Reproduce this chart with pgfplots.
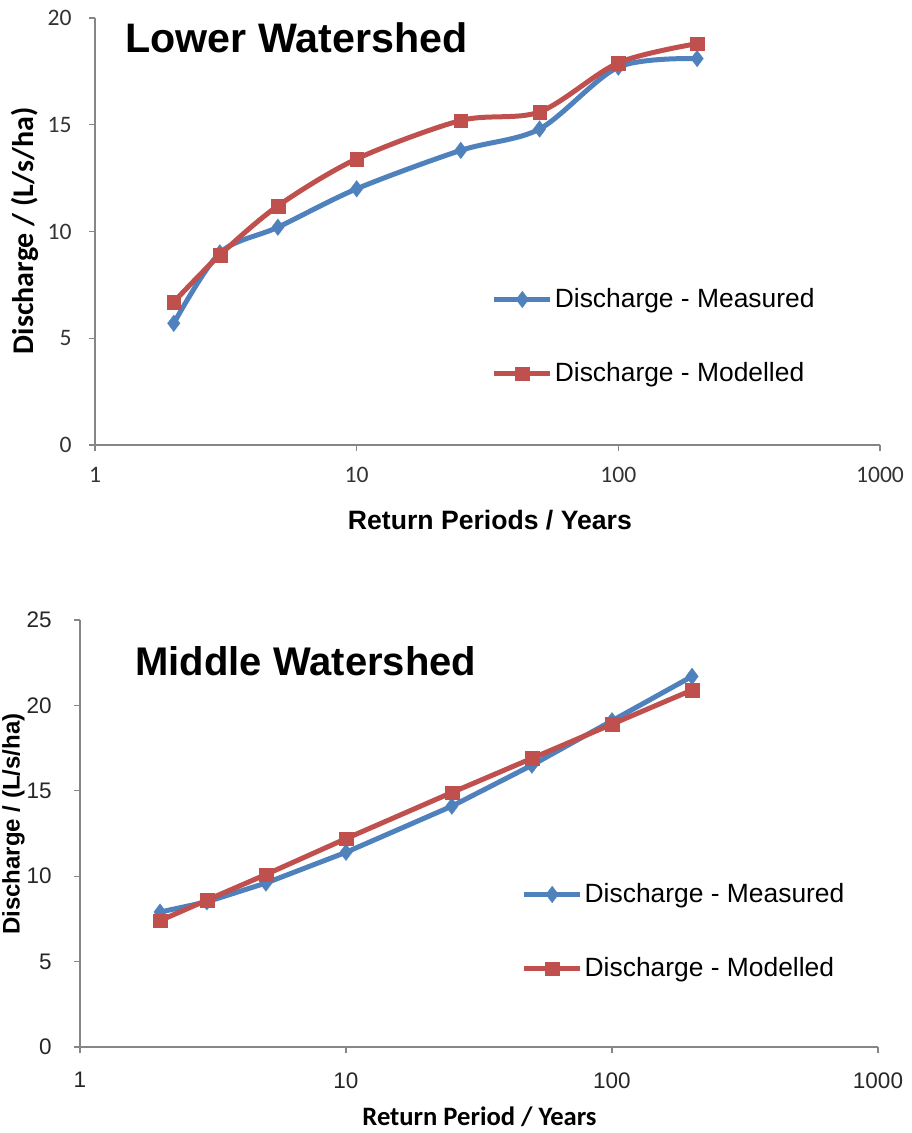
\documentclass[border=0pt]{standalone}
\usepackage{fontspec}
\setmainfont{Liberation Sans}
\newfontfamily\calibri{Carlito}
\usepackage{pgfplots}
\pgfplotsset{compat=1.18}
\definecolor{measblue}{HTML}{4F81BD}
\definecolor{modred}{HTML}{C0504D}
\definecolor{axgray}{HTML}{868686}

\pgfplotsset{
  excelaxis/.style={
    scale only axis,
    xmin=1, xmax=1000, ymin=0,
    xtick={1,10,100,1000}, xticklabels={1,10,100,1000},
    xminorticks=false,
    axis x line=bottom, axis y line=left,
    axis line style={draw=axgray, line width=0.6pt, -},
    tick align=outside, major tick length=3pt,
    tick style={draw=axgray, line width=0.6pt},
    /pgf/number format/assume math mode=true,
    clip=false,
    legend cell align=left,
    legend style={draw=none, fill=none, anchor=west, inner sep=0pt,
      row sep=24pt, nodes={inner sep=1pt},
      font=\fontsize{13.2}{14}\selectfont},
    legend image code/.code={\draw[##1, mark repeat=2, mark phase=2]
      plot coordinates {(0pt,0pt) (14pt,0pt) (28pt,0pt)};},
  },
  meas/.style={measblue, line width=2.5pt, mark=diamond*, mark size=4.2pt,
    mark options={solid, line width=0.1pt}},
  mod/.style={modred, line width=2.5pt, mark=square*, mark size=3.4pt,
    mark options={solid, line width=0.1pt}},
}

\begin{document}
\begin{tikzpicture}
\useasboundingbox (0,0) rectangle (455.5pt,-566.5pt);

% Lower watershed
\begin{semilogxaxis}[
  excelaxis,
  at={(47.5pt,-222.5pt)}, anchor=south west,
  width=392.5pt, height=213.5pt,
  ymax=20, ytick={0,5,10,15,20},
  ticklabel style={font=\calibri\fontsize{11.8}{12}\selectfont, text=black!80},
  yticklabel style={anchor=east, inner sep=0pt, xshift=-8.5pt},
  xticklabel style={anchor=north, inner sep=0pt, yshift=-8pt},
  xlabel={Return Periods / Years},
  xlabel style={font=\bfseries\fontsize{13.3}{14}\selectfont,
    at={(axis description cs:0.503,-0.199)}, anchor=base},
  ylabel={Discharge / (L/s/ha)},
  ylabel style={font=\calibri\bfseries\fontsize{15}{16}\selectfont,
    at={(axis description cs:-0.089,0.502)}, anchor=center},
  legend style={at={(axis description cs:0.505,0.254)}},
]
\addplot[meas, smooth] coordinates {
  (2,5.7) (3,9.0) (5,10.2) (10,12.0) (25,13.8) (50,14.8) (100,17.7) (200,18.1)
};
\addlegendentry{Discharge - Measured}
\addplot[mod, smooth] coordinates {
  (2,6.7) (3,8.9) (5,11.2) (10,13.4) (25,15.2) (50,15.6) (100,17.9) (200,18.8)
};
\addlegendentry{Discharge - Modelled}
\node[anchor=base west, inner sep=0pt, font=\bfseries\fontsize{20.6}{22}\selectfont]
  at (axis description cs:0.0382,0.920) {Lower Watershed};
\end{semilogxaxis}

% Middle watershed
\begin{semilogxaxis}[
  excelaxis,
  at={(40pt,-523.5pt)}, anchor=south west,
  width=399pt, height=213.5pt,
  ymax=25, ytick={0,5,10,15,20,25},
  ticklabel style={font=\fontsize{11.25}{12}\selectfont, text=black!85},
  yticklabel style={anchor=east, inner sep=0pt, xshift=-11pt},
  xticklabel style={anchor=north, inner sep=0pt, yshift=-9.5pt},
  xlabel={Return Period / Years},
  xlabel style={font=\calibri\bfseries\fontsize{13.3}{14}\selectfont,
    at={(axis description cs:0.5006,-0.1827)}, anchor=base},
  ylabel={Discharge / (L/s/ha)},
  ylabel style={font=\bfseries\fontsize{12}{13}\selectfont,
    at={(axis description cs:-0.0835,0.522)}, anchor=center},
  legend style={at={(axis description cs:0.553,0.2705)}},
]
\addplot[meas] coordinates {
  (2,7.9) (3,8.5) (5,9.6) (10,11.4) (25,14.1) (50,16.5) (100,19.1) (200,21.7)
};
\addlegendentry{Discharge - Measured}
\addplot[mod] coordinates {
  (2,7.4) (3,8.6) (5,10.1) (10,12.2) (25,14.9) (50,16.9) (100,18.9) (200,20.9)
};
\addlegendentry{Discharge - Modelled}
\node[anchor=base west, inner sep=0pt, font=\bfseries\fontsize{20}{22}\selectfont]
  at (axis description cs:0.0689,0.871) {Middle Watershed};
\end{semilogxaxis}
\end{tikzpicture}
\end{document}
